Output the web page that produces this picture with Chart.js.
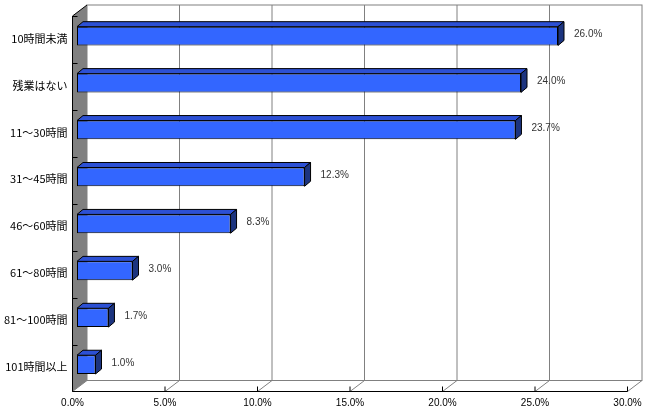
<!DOCTYPE html>
<html>
<head>
<meta charset="utf-8">
<script src="https://cdn.jsdelivr.net/npm/chart.js@4/dist/chart.umd.min.js"></script>
<style>
  html, body { margin: 0; padding: 0; background: #fff; }
  #wrap { width: 650px; height: 410px; }
</style>
</head>
<body>
<div id="wrap"><canvas id="c" width="650" height="410"></canvas></div>
<script>
// categories, top to bottom
const categories = ["10時間未満", "残業はない", "11～30時間", "31～45時間", "46～60時間", "61～80時間", "81～100時間", "101時間以上"];
// share of respondents (%)
const shares = [26.0, 24.0, 23.7, 12.3, 8.3, 3.0, 1.7, 1.0];
// x axis ticks (%)
const xTicks = [0, 5, 10, 15, 20, 25, 30];

// 3d look: bars sit a little behind the front plane, walls go further back
const barShift = { x: 4.5, y: -3.4 };
const barDepth = { x: 6, y: -5 };
const wallDepth = { x: 14.5, y: -11 };

const numFont = "10px 'Liberation Sans', Arial, sans-serif";
const jpFont = "11px 'Noto Sans CJK JP', sans-serif";

const fakeThreeD = {
    id: "fakeThreeD",
    beforeDatasetsDraw(chart) {
        const ctx = chart.ctx, a = chart.chartArea;
        const xs = chart.scales.x;
        // front plane
        const L = xs.getPixelForValue(0) - barShift.x, R = xs.getPixelForValue(30) - barShift.x;
        const T = a.top - barShift.y, B = a.bottom - barShift.y;
        const bx = wallDepth.x, by = wallDepth.y;
        ctx.save();
        ctx.lineWidth = 1;
        // back wall
        ctx.strokeStyle = "#808080";
        ctx.strokeRect(L + bx, T + by, R - L, B - T);
        // back gridlines
        xTicks.forEach(v => {
            if (v === 0 || v === 30) return;
            const x = xs.getPixelForValue(v) - barShift.x + bx;
            ctx.beginPath();
            ctx.moveTo(x, T + by);
            ctx.lineTo(x, B + by);
            ctx.stroke();
        });
        // floor diagonals
        xTicks.forEach(v => {
            const x = xs.getPixelForValue(v) - barShift.x;
            ctx.beginPath();
            ctx.moveTo(x, B);
            ctx.lineTo(x + bx, B + by);
            ctx.stroke();
        });
        // gray side wall
        ctx.fillStyle = "#808080";
        ctx.beginPath();
        ctx.moveTo(L, T);
        ctx.lineTo(L + bx, T + by);
        ctx.lineTo(L + bx, B + by);
        ctx.lineTo(L, B);
        ctx.closePath();
        ctx.fill();
        ctx.strokeStyle = "#000";
        ctx.beginPath();
        ctx.moveTo(L, B);
        ctx.lineTo(L, T);
        ctx.lineTo(L + bx, T + by);
        ctx.stroke();
        // front axes
        ctx.beginPath();
        ctx.moveTo(L, B);
        ctx.lineTo(R, B);
        ctx.stroke();
        // x ticks + labels
        ctx.fillStyle = "#000";
        ctx.font = numFont;
        ctx.textAlign = "center";
        ctx.textBaseline = "middle";
        xTicks.forEach(v => {
            const x = xs.getPixelForValue(v) - barShift.x;
            ctx.beginPath();
            ctx.moveTo(x, B);
            ctx.lineTo(x, B - 5);
            ctx.stroke();
            ctx.fillText(v.toFixed(1) + "%", x, B + 12);
        });
        // y ticks between categories + labels
        const band = (B - T) / categories.length;
        for (let k = 0; k < categories.length; k++) {
            const y = Math.round(T + band * k) + 0.5;
            ctx.beginPath();
            ctx.moveTo(L, y);
            ctx.lineTo(L + 5, y);
            ctx.stroke();
        }
        ctx.font = jpFont;
        ctx.textAlign = "right";
        const ys = chart.scales.y;
        categories.forEach((c, i) => {
            ctx.fillText(c, L - 5, ys.getPixelForValue(i) - barShift.y - 1);
        });
        ctx.restore();
    },
    afterDatasetsDraw(chart) {
        const ctx = chart.ctx;
        const meta = chart.getDatasetMeta(0);
        const dx = barDepth.x, dy = barDepth.y;
        ctx.save();
        ctx.lineWidth = 1;
        ctx.strokeStyle = "#000";
        meta.data.forEach((bar, i) => {
            const p = bar.getProps(["x", "y", "base", "height"], true);
            const x0 = p.base, x1 = p.x;
            const yt = p.y - p.height / 2, yb = p.y + p.height / 2;
            // top face
            ctx.fillStyle = "#2c50d4";
            ctx.beginPath();
            ctx.moveTo(x0, yt);
            ctx.lineTo(x0 + dx, yt + dy);
            ctx.lineTo(x1 + dx, yt + dy);
            ctx.lineTo(x1, yt);
            ctx.closePath();
            ctx.fill();
            ctx.stroke();
            // side face
            ctx.fillStyle = "#1c347f";
            ctx.beginPath();
            ctx.moveTo(x1, yt);
            ctx.lineTo(x1 + dx, yt + dy);
            ctx.lineTo(x1 + dx, yb + dy);
            ctx.lineTo(x1, yb);
            ctx.closePath();
            ctx.fill();
            ctx.stroke();
            // value label
            ctx.fillStyle = "#333";
            ctx.font = numFont;
            ctx.textAlign = "left";
            ctx.textBaseline = "middle";
            ctx.fillText(shares[i].toFixed(1) + "%", x1 + dx + 10, p.y - 1.5);
        });
        ctx.restore();
    }
};

const chart = new Chart(document.getElementById("c"), {
    type: "bar",
    data: {
        labels: categories,
        datasets: [{
            data: shares,
            backgroundColor: "#3366ff",
            borderColor: "#000",
            borderWidth: 1,
            borderSkipped: false,
            barPercentage: 0.4,
            categoryPercentage: 1
        }]
    },
    options: {
        indexAxis: "y",
        responsive: false,
        animation: false,
        layout: { padding: { left: 77, right: 18, top: 12.6, bottom: 21.9 } },
        plugins: { legend: { display: false }, tooltip: { enabled: false } },
        scales: {
            x: { display: false, min: 0, max: 30 },
            y: { display: false }
        }
    },
    plugins: [fakeThreeD]
});
</script>
</body>
</html>
